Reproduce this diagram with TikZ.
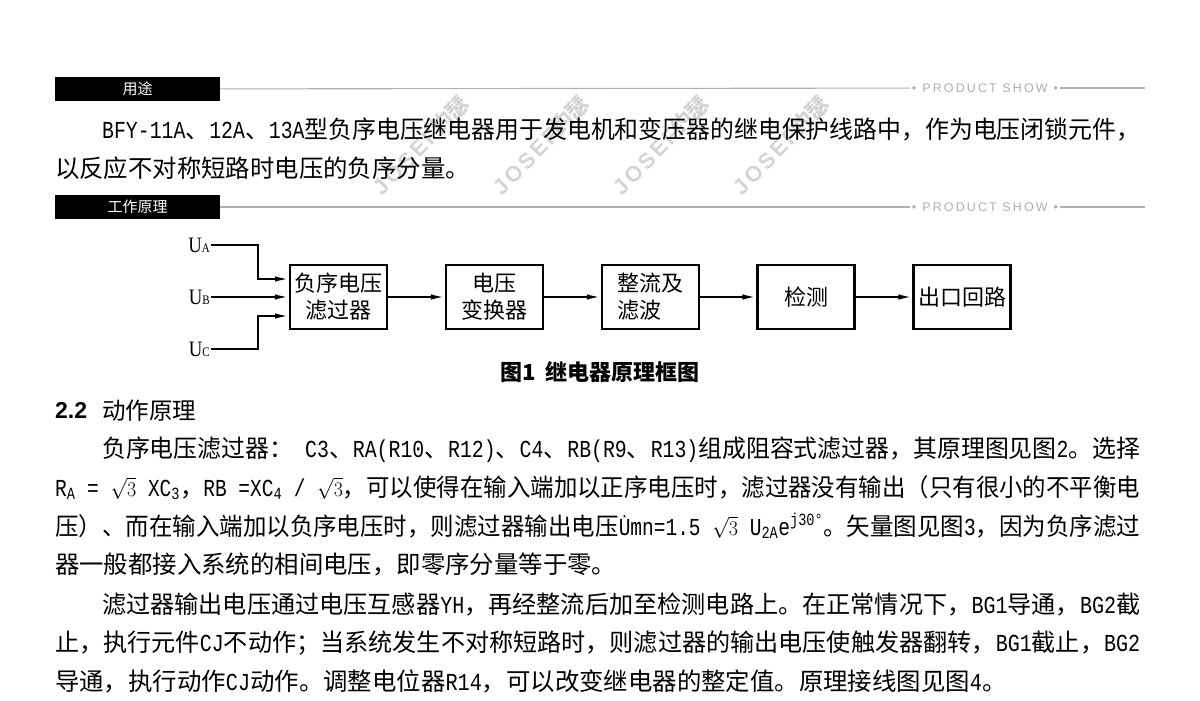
\documentclass[tikz,border=0pt]{standalone}
\usepackage{fontspec}
\usepackage{graphicx}
\usetikzlibrary{arrows.meta}
\setmainfont{Noto Sans CJK SC}
\newfontfamily\lat{Liberation Mono}[FakeStretch=0.83]
\newfontfamily\ulab{Liberation Serif}[FakeStretch=0.85]
\newfontfamily\hsans{Liberation Sans}
\newfontfamily\showfont{Liberation Sans}[LetterSpace=17]
\newfontfamily\wmfont{Liberation Sans}[LetterSpace=12]
\newcommand\lt[1]{{\lat #1}}
\newcommand\sq{{\fontsize{22}{22}\selectfont$\sqrt{3}$}}
\newcommand\fline[2]{\resizebox{#1pt}{\height}{#2}}
\newcommand\bodyfont{\fontsize{24.4}{30}\selectfont}
\definecolor{hd_gray}{RGB}{175,175,175}
\definecolor{wm_gray}{RGB}{212,212,212}
\tikzstyle{hbar}=[fill=black,text=white,minimum width=165pt,minimum height=24pt,
  inner sep=0pt,font=\fontsize{15}{15}\selectfont]
\tikzstyle{hline}=[draw=hd_gray,line width=1.1pt]
\tikzstyle{show}=[text=hd_gray,inner sep=2pt,font=\showfont\fontsize{12.5}{13}\selectfont]
\tikzstyle{para}=[anchor=base west,inner sep=0pt,font=\bodyfont]
\tikzstyle{blk}=[draw,line width=2.2pt,minimum width=97pt,minimum height=64pt,
  inner sep=2pt,font=\fontsize{22}{27}\selectfont,align=center]
\tikzstyle{ulbl}=[anchor=east,inner sep=1pt,font=\ulab\fontsize{22}{22}\selectfont]
\tikzstyle{arr}=[-{Latex[length=14pt,width=5.5pt]},line width=2pt]
\tikzstyle{wmark}=[rotate=46,text=wm_gray,font=\wmfont\bfseries\fontsize{22}{22}\selectfont]

\begin{document}
\begin{tikzpicture}[x=1pt,y=-1pt]
    \useasboundingbox (0,0) rectangle (1200,701);
    % watermarks
    \foreach \x in {421,541,661,781}
      \node [style=wmark] (wm\x) at (\x,145) {JOSEF{\rmfamily\bfseries 约瑟}};
    % section bars
    \node [style=hbar] (use) at (137.5,89) {用途};
    \node [style=show] (show1) at (985,88) {•\hspace{6pt}PRODUCT SHOW\hspace{6pt}•};
    \coordinate (end1) at (1145,88);
    \draw [style=hline] (use) to (show1);
    \draw [style=hline] (show1) to (end1);
    \node [style=hbar] (work) at (137.5,207) {工作原理};
    \node [style=show] (show2) at (985,207) {•\hspace{6pt}PRODUCT SHOW\hspace{6pt}•};
    \coordinate (end2) at (1145,207);
    \draw [style=hline] (work) to (show2);
    \draw [style=hline] (show2) to (end2);
    % purpose
    \node [style=para] (p1a) at (102,139) {\fline{1038}{\lt{BFY-11A}、\lt{12A}、\lt{13A}型负序电压继电器用于发电机和变压器的继电保护线路中，作为电压闭锁元件，}};
    \node [style=para] (p1b) at (55,177) {以反应不对称短路时电压的负序分量。};
    % block diagram
    \node [style=ulbl] (ua) at (211,245) {U{\fontsize{13}{13}\selectfont A}};
    \node [style=ulbl] (ub) at (211,297) {U{\fontsize{13}{13}\selectfont B}};
    \node [style=ulbl] (uc) at (211,349) {U{\fontsize{13}{13}\selectfont C}};
    \node [style=blk] (filt) at (338.5,297) {负序电压\\滤过器};
    \node [style=blk] (conv) at (494.5,297) {电压\\变换器};
    \node [style=blk] (rect) at (650.5,297) [align=left] {整流及\\滤波};
    \node [style=blk] (det) at (806,297) {检测};
    \node [style=blk] (out) at (962,297) {出口回路};
    \coordinate (ka) at (258,245);
    \coordinate (kc) at (258,349);
    \coordinate (fa) at (289,279);
    \coordinate (fc) at (289,316);
    \draw [style=arr] (ua.east) -- (ka) |- (fa);
    \draw [style=arr] (ub.east) -- (filt.west |- ub.east);
    \draw [style=arr] (uc.east) -- (kc) |- (fc);
    \draw [style=arr] (filt) to (conv);
    \draw [style=arr] (conv) to (rect);
    \draw [style=arr] (rect) to (det);
    \draw [style=arr] (det) to (out);
    \node (fig1) at (600,372) [font=\bfseries\fontsize{22}{22}\selectfont] {图1\hspace{10pt}继电器原理框图};
    % principle
    \node [anchor=base west,inner sep=0pt] (secn) at (55,418) [font=\hsans\bfseries\fontsize{23}{23}\selectfont] {2.2};
    \node [anchor=base west,inner sep=0pt] (sect) at (102,419) [font=\fontsize{23.5}{24}\selectfont] {动作原理};
    \node [style=para] (p2a) at (102,457) {\fline{1038}{负序电压滤过器：\lt{\ C3}、\lt{RA(R10}、\lt{R12)}、\lt{C4}、\lt{RB(R9}、\lt{R13)}组成阻容式滤过器，其原理图见图\lt{2}。选择}};
    \node [style=para] (p2b) at (55,496) {\fline{1085}{\lt{R\textsubscript{A}\ =\ }\sq\lt{\ XC\textsubscript{3}}，\lt{RB\ =XC\textsubscript{4}\ /\ }\sq，可以使得在输入端加以正序电压时，滤过器没有输出（只有很小的不平衡电}};
    \node [style=para] (p2c) at (55,535) {\fline{1085}{压）、而在输入端加以负序电压时，则滤过器输出电压\lt{\.{U}mn=1.5\ }\sq\lt{\ U\textsubscript{2A}e\textsuperscript{j30°}}。矢量图见图\lt{3}，因为负序滤过}};
    \node [style=para] (p2d) at (55,573) {器一般都接入系统的相间电压，即零序分量等于零。};
    \node [style=para] (p3a) at (102,613) {\fline{1038}{滤过器输出电压通过电压互感器\lt{YH}，再经整流后加至检测电路上。在正常情况下，\lt{BG1}导通，\lt{BG2}截}};
    \node [style=para] (p3b) at (55,651) {\fline{1085}{止，执行元件\lt{CJ}不动作；当系统发生不对称短路时，则滤过器的输出电压使触发器翻转，\lt{BG1}截止，\lt{BG2}}};
    \node [style=para] (p3c) at (55,690) {导通，执行动作\lt{CJ}动作。调整电位器\lt{R14}，可以改变继电器的整定值。原理接线图见图\lt{4}。};
  \end{tikzpicture}
\end{document}
